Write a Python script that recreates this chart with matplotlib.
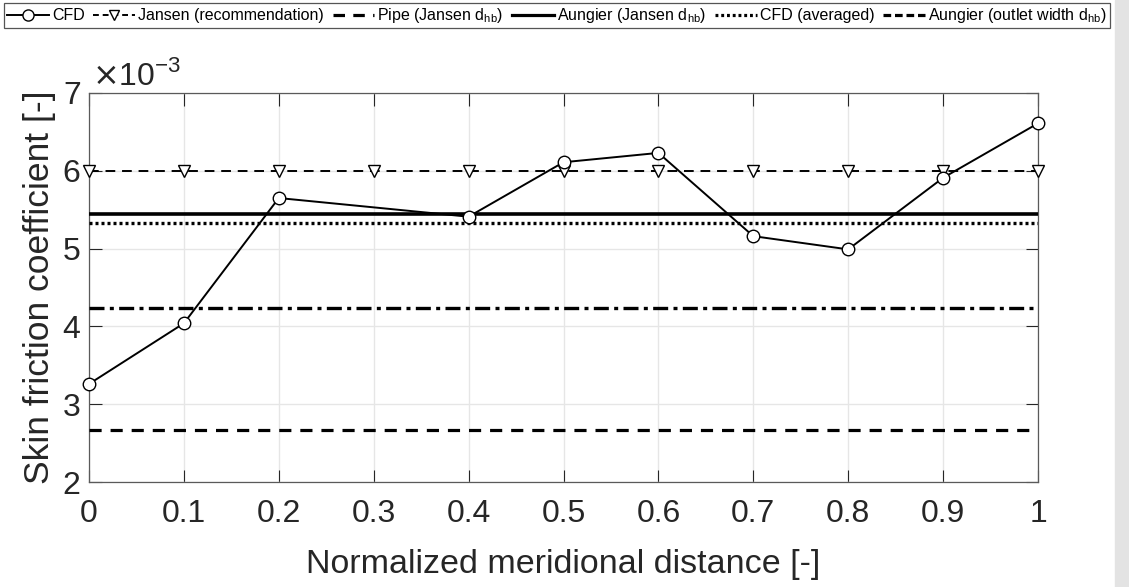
"""Skin friction coefficient along the normalized meridional distance."""
import matplotlib

matplotlib.use("Agg")
import matplotlib.pyplot as plt
from matplotlib.lines import Line2D
from matplotlib.patches import Rectangle
from matplotlib.ticker import ScalarFormatter

plt.rcParams["font.family"] = ["Liberation Sans", "DejaVu Sans"]
plt.rcParams["axes.unicode_minus"] = False

# data
cfd_x = [0.0, 0.1, 0.2, 0.4, 0.5, 0.6, 0.7, 0.8, 0.9, 1.0]
cfd_cf = [3.26e-3, 4.04e-3, 5.65e-3, 5.41e-3, 6.11e-3, 6.23e-3, 5.16e-3, 4.99e-3, 5.91e-3, 6.61e-3]
jansen_x = [0.0, 0.1, 0.2, 0.3, 0.4, 0.5, 0.6, 0.7, 0.8, 0.9, 1.0]
jansen_cf = [6.0e-3] * 11
pipe_jansen_cf = 2.67e-3
aungier_jansen_cf = 5.44e-3
cfd_avg_cf = 5.33e-3
aungier_outlet_cf = 4.24e-3
x_ticks = [0, 0.1, 0.2, 0.3, 0.4, 0.5, 0.6, 0.7, 0.8, 0.9, 1]
x_tick_labels = ["0", "0.1", "0.2", "0.3", "0.4", "0.5", "0.6", "0.7", "0.8", "0.9", "1"]
y_ticks = [2e-3, 3e-3, 4e-3, 5e-3, 6e-3, 7e-3]

AX_COLOR = "#262626"
W, H = 1129, 587

fig = plt.figure(figsize=(W / 100, H / 100), dpi=100)
fig.patches.append(
    Rectangle((1115 / W, 0), 1 - 1115 / W, 1, transform=fig.transFigure,
              color="#e3e3e3", zorder=0)
)
ax = fig.add_axes([89 / W, 1 - 482 / H, (1038 - 89) / W, (482 - 93) / H])

xmin, xmax = 0, 1
ax.hlines(pipe_jansen_cf, xmin, xmax, color="k", lw=2.3,
          linestyles=(0, (3.8, 2.8)), zorder=3)
ax.hlines(aungier_jansen_cf, xmin, xmax, color="k", lw=2.6, zorder=3)
ax.hlines(cfd_avg_cf, xmin, xmax, color="k", lw=2.4,
          linestyles=(0, (0.9, 0.9)), zorder=3)
ax.hlines(aungier_outlet_cf, xmin, xmax, color="k", lw=2.4,
          linestyles=(0, (4.5, 1.6, 1.2, 1.6)), zorder=3)
ax.plot(jansen_x, jansen_cf, color="k", lw=1.4, ls=(0, (5, 3.5)), marker="v",
        ms=8, mfc="white", mec="k", mew=1.0, clip_on=False, zorder=4)
ax.plot(cfd_x, cfd_cf, color="k", lw=1.4, marker="o", ms=9, mfc="white",
        mec="k", mew=1.0, clip_on=False, zorder=5)

ax.set_xlim(0, 1)
ax.set_ylim(2e-3, 7e-3)
ax.set_xticks(x_ticks)
ax.set_xticklabels(x_tick_labels)
ax.set_yticks(y_ticks)
fmt = ScalarFormatter(useMathText=True)
fmt.set_powerlimits((-2, 2))
ax.yaxis.set_major_formatter(fmt)
ax.yaxis.get_offset_text().set_visible(False)
# exponent drawn by hand, MATLAB style
ax.text(0.003, 1.02, "$\\times$10$^{\\mathregular{-3}}$", transform=ax.transAxes,
        fontsize=23, color=AX_COLOR, ha="left", va="baseline")

ax.grid(True, color="#e6e6e6", lw=1.0, zorder=0)
ax.set_axisbelow(True)
ax.tick_params(direction="in", length=9, width=0.8, labelsize=23,
               top=True, right=True, colors=AX_COLOR, pad=6)
ax.tick_params(axis="x", pad=12)
for s in ax.spines.values():
    s.set_color("#5a5a5a")
    s.set_linewidth(0.9)

ax.set_xlabel("Normalized meridional distance [-]", fontsize=24.5, color=AX_COLOR,
              labelpad=15)
ax.set_ylabel("Skin friction coefficient [-]", fontsize=25.5, color=AX_COLOR,
              labelpad=4)

handles = [
    Line2D([], [], color="k", lw=1.4, marker="o", ms=8, mfc="white"),
    Line2D([], [], color="k", lw=1.4, ls=(0, (3, 2)), marker="v", ms=7, mfc="white"),
    Line2D([], [], color="k", lw=2.3, ls=(0, (3.6, 2.6))),
    Line2D([], [], color="k", lw=2.3),
    Line2D([], [], color="k", lw=2.3, ls=(0, (0.9, 0.9))),
    Line2D([], [], color="k", lw=2.3, ls=(0, (2.4, 1.2))),
]
labels = [
    "CFD",
    "Jansen (recommendation)",
    "Pipe (Jansen d$_{\\mathregular{hb}}$)",
    "Aungier (Jansen d$_{\\mathregular{hb}}$)",
    "CFD (averaged)",
    "Aungier (outlet width d$_{\\mathregular{hb}}$)",
]
leg = fig.legend(handles, labels, loc="upper left", ncol=6,
                 bbox_to_anchor=(4 / W, 1 - 3 / H), fontsize=11.5,
                 handlelength=2.6, handletextpad=0.2, columnspacing=0.55,
                 borderpad=0.2, borderaxespad=0, fancybox=False,
                 framealpha=1, edgecolor="#555555")
leg.get_frame().set_linewidth(0.9)

fig.savefig("out.png", dpi=100)
